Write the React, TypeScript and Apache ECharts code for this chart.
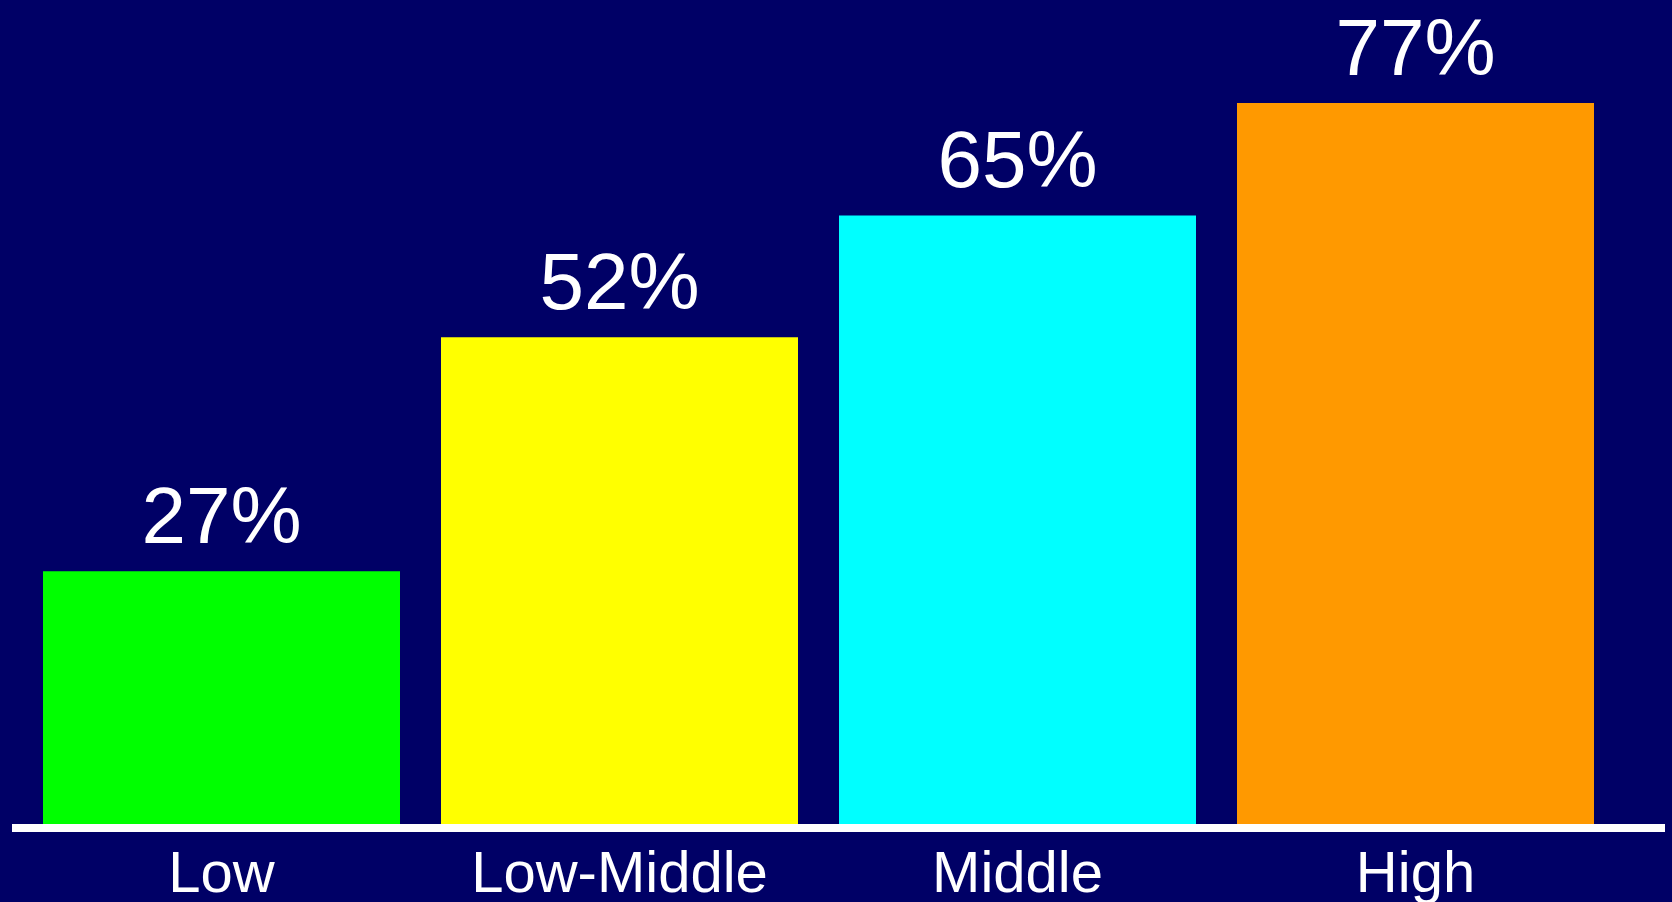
import React, { useEffect, useRef } from "react";
import * as echarts from "echarts";

const categories = ["Low", "Low-Middle", "Middle", "High"];
const values = [27, 52, 65, 77];
const barColors = ["#00FF00", "#FFFF00", "#00FFFF", "#FF9900"];
const yMax = 80;

export default function App() {
  const ref = useRef<HTMLDivElement>(null);
  useEffect(() => {
    if (!ref.current) return;
    const chart = echarts.init(ref.current, null, { renderer: "svg" });
    chart.setOption({
      animation: false,
      backgroundColor: "#000066",
      grid: { left: 22.5, right: 1672 - 1614.5, top: 75, bottom: 78 },
      xAxis: {
        type: "category",
        data: categories,
        axisLine: { show: false },
        axisTick: { show: false },
        axisLabel: {
          color: "#FFFFFF",
          fontSize: 58,
          fontFamily: "Liberation Sans, Arial, sans-serif",
          margin: 18,
        },
      },
      yAxis: {
        type: "value",
        min: 0,
        max: yMax,
        show: false,
        splitLine: { show: false },
      },
      series: [
        {
          type: "bar",
          barWidth: 357,
          data: values.map((v, i) => ({ value: v, itemStyle: { color: barColors[i] } })),
          label: {
            show: true,
            position: "top",
            distance: 16,
            color: "#FFFFFF",
            fontSize: 80,
            fontFamily: "Liberation Sans, Arial, sans-serif",
            formatter: "{c}%",
          },
        },
      ],
      graphic: [
        {
          type: "line",
          shape: { x1: 12, y1: 828, x2: 1665, y2: 828 },
          style: { stroke: "#FFFFFF", lineWidth: 8 },
          z: 10,
        },
      ],
    });
    return () => chart.dispose();
  }, []);
  return (
    <div
      ref={ref}
      style={{ position: "fixed", left: 0, top: 0, width: 1672, height: 902 }}
    />
  );
}
